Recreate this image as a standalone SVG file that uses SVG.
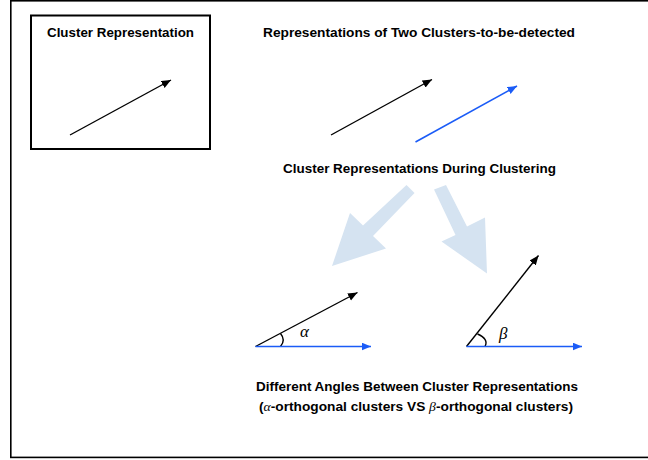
<svg xmlns="http://www.w3.org/2000/svg" width="648" height="460" viewBox="0 0 648 460">
<defs>
<style>
.t{font-family:"Liberation Sans",Arial,Helvetica,sans-serif;font-weight:bold;font-size:13.5px;fill:#000;text-anchor:middle}
.g{font-family:"Liberation Serif","Times New Roman",serif;font-style:italic;font-weight:normal}
.k{stroke:#000;stroke-width:1.4;fill:none}
.b{stroke:#1b5cf7;stroke-width:1.6;fill:none}
.big{fill:#d5e3f1}
</style>
<marker id="ak" markerUnits="userSpaceOnUse" markerWidth="11" markerHeight="9" refX="9.5" refY="4" orient="auto"><path d="M0,0 L9.5,4 L0,8 z" fill="#000"/></marker>
<marker id="ab" markerUnits="userSpaceOnUse" markerWidth="11" markerHeight="9" refX="9.5" refY="4" orient="auto"><path d="M0,0 L9.5,4 L0,8 z" fill="#1b5cf7"/></marker>
</defs>
<rect x="0" y="0" width="648" height="460" fill="#fff"/>
<rect id="frame" x="10.8" y="0.8" width="645" height="456.6" fill="none" stroke="#000" stroke-width="1.6"/>
<g id="cluster-representation">
<rect x="31" y="15.5" width="179" height="133.5" fill="none" stroke="#000" stroke-width="2"/>
<text class="t" x="120.5" y="37" textLength="147" lengthAdjust="spacingAndGlyphs">Cluster Representation</text>
</g>
<g id="two-clusters">
<text class="t" x="419" y="37" textLength="312" lengthAdjust="spacingAndGlyphs">Representations of Two Clusters-to-be-detected</text>
</g>
<g id="during-clustering">
<text class="t" x="419.5" y="173" textLength="273" lengthAdjust="spacingAndGlyphs">Cluster Representations During Clustering</text>
</g>
<g id="alpha-angle">
<path class="k" d="M280.5,333.5 Q286,340 280.5,346.5"/>
<text class="g" x="300" y="337" font-size="17">α</text>
</g>
<g id="beta-angle">
<path class="k" d="M477.5,334 Q489,339 485,346.5"/>
<text class="g" x="499" y="339" font-size="17">β</text>
</g>
<g id="different-angles">
<text class="t" x="417" y="391" textLength="322" lengthAdjust="spacingAndGlyphs">Different Angles Between Cluster Representations</text>
<text class="t" x="416" y="411" textLength="314" lengthAdjust="spacingAndGlyphs">(<tspan class="g">α</tspan>-orthogonal clusters VS <tspan class="g">β</tspan>-orthogonal clusters)</text>
</g>
<g id="connectors">
<line class="k" x1="70" y1="135" x2="171" y2="80" marker-end="url(#ak)"/>
<line class="k" x1="331" y1="135" x2="432" y2="79.5" marker-end="url(#ak)"/>
<line class="b" x1="415.5" y1="142" x2="517" y2="86" marker-end="url(#ab)"/>
<polygon class="big" points="406.5,185 414.5,193 373,236 386,248.5 332,266 350,213 363,225.5"/>
<polygon class="big" points="434,189.5 446,185 467,226.5 485,217.5 487,273.5 441.5,241.5 455.5,235"/>
<line class="k" x1="255.5" y1="346.5" x2="357.5" y2="292.5" marker-end="url(#ak)"/>
<line class="b" x1="255.5" y1="346.5" x2="371" y2="346.5" marker-end="url(#ab)"/>
<line class="k" x1="466.5" y1="346.5" x2="538.5" y2="255.5" marker-end="url(#ak)"/>
<line class="b" x1="466.5" y1="346.5" x2="582" y2="346.5" marker-end="url(#ab)"/>
</g>
</svg>
